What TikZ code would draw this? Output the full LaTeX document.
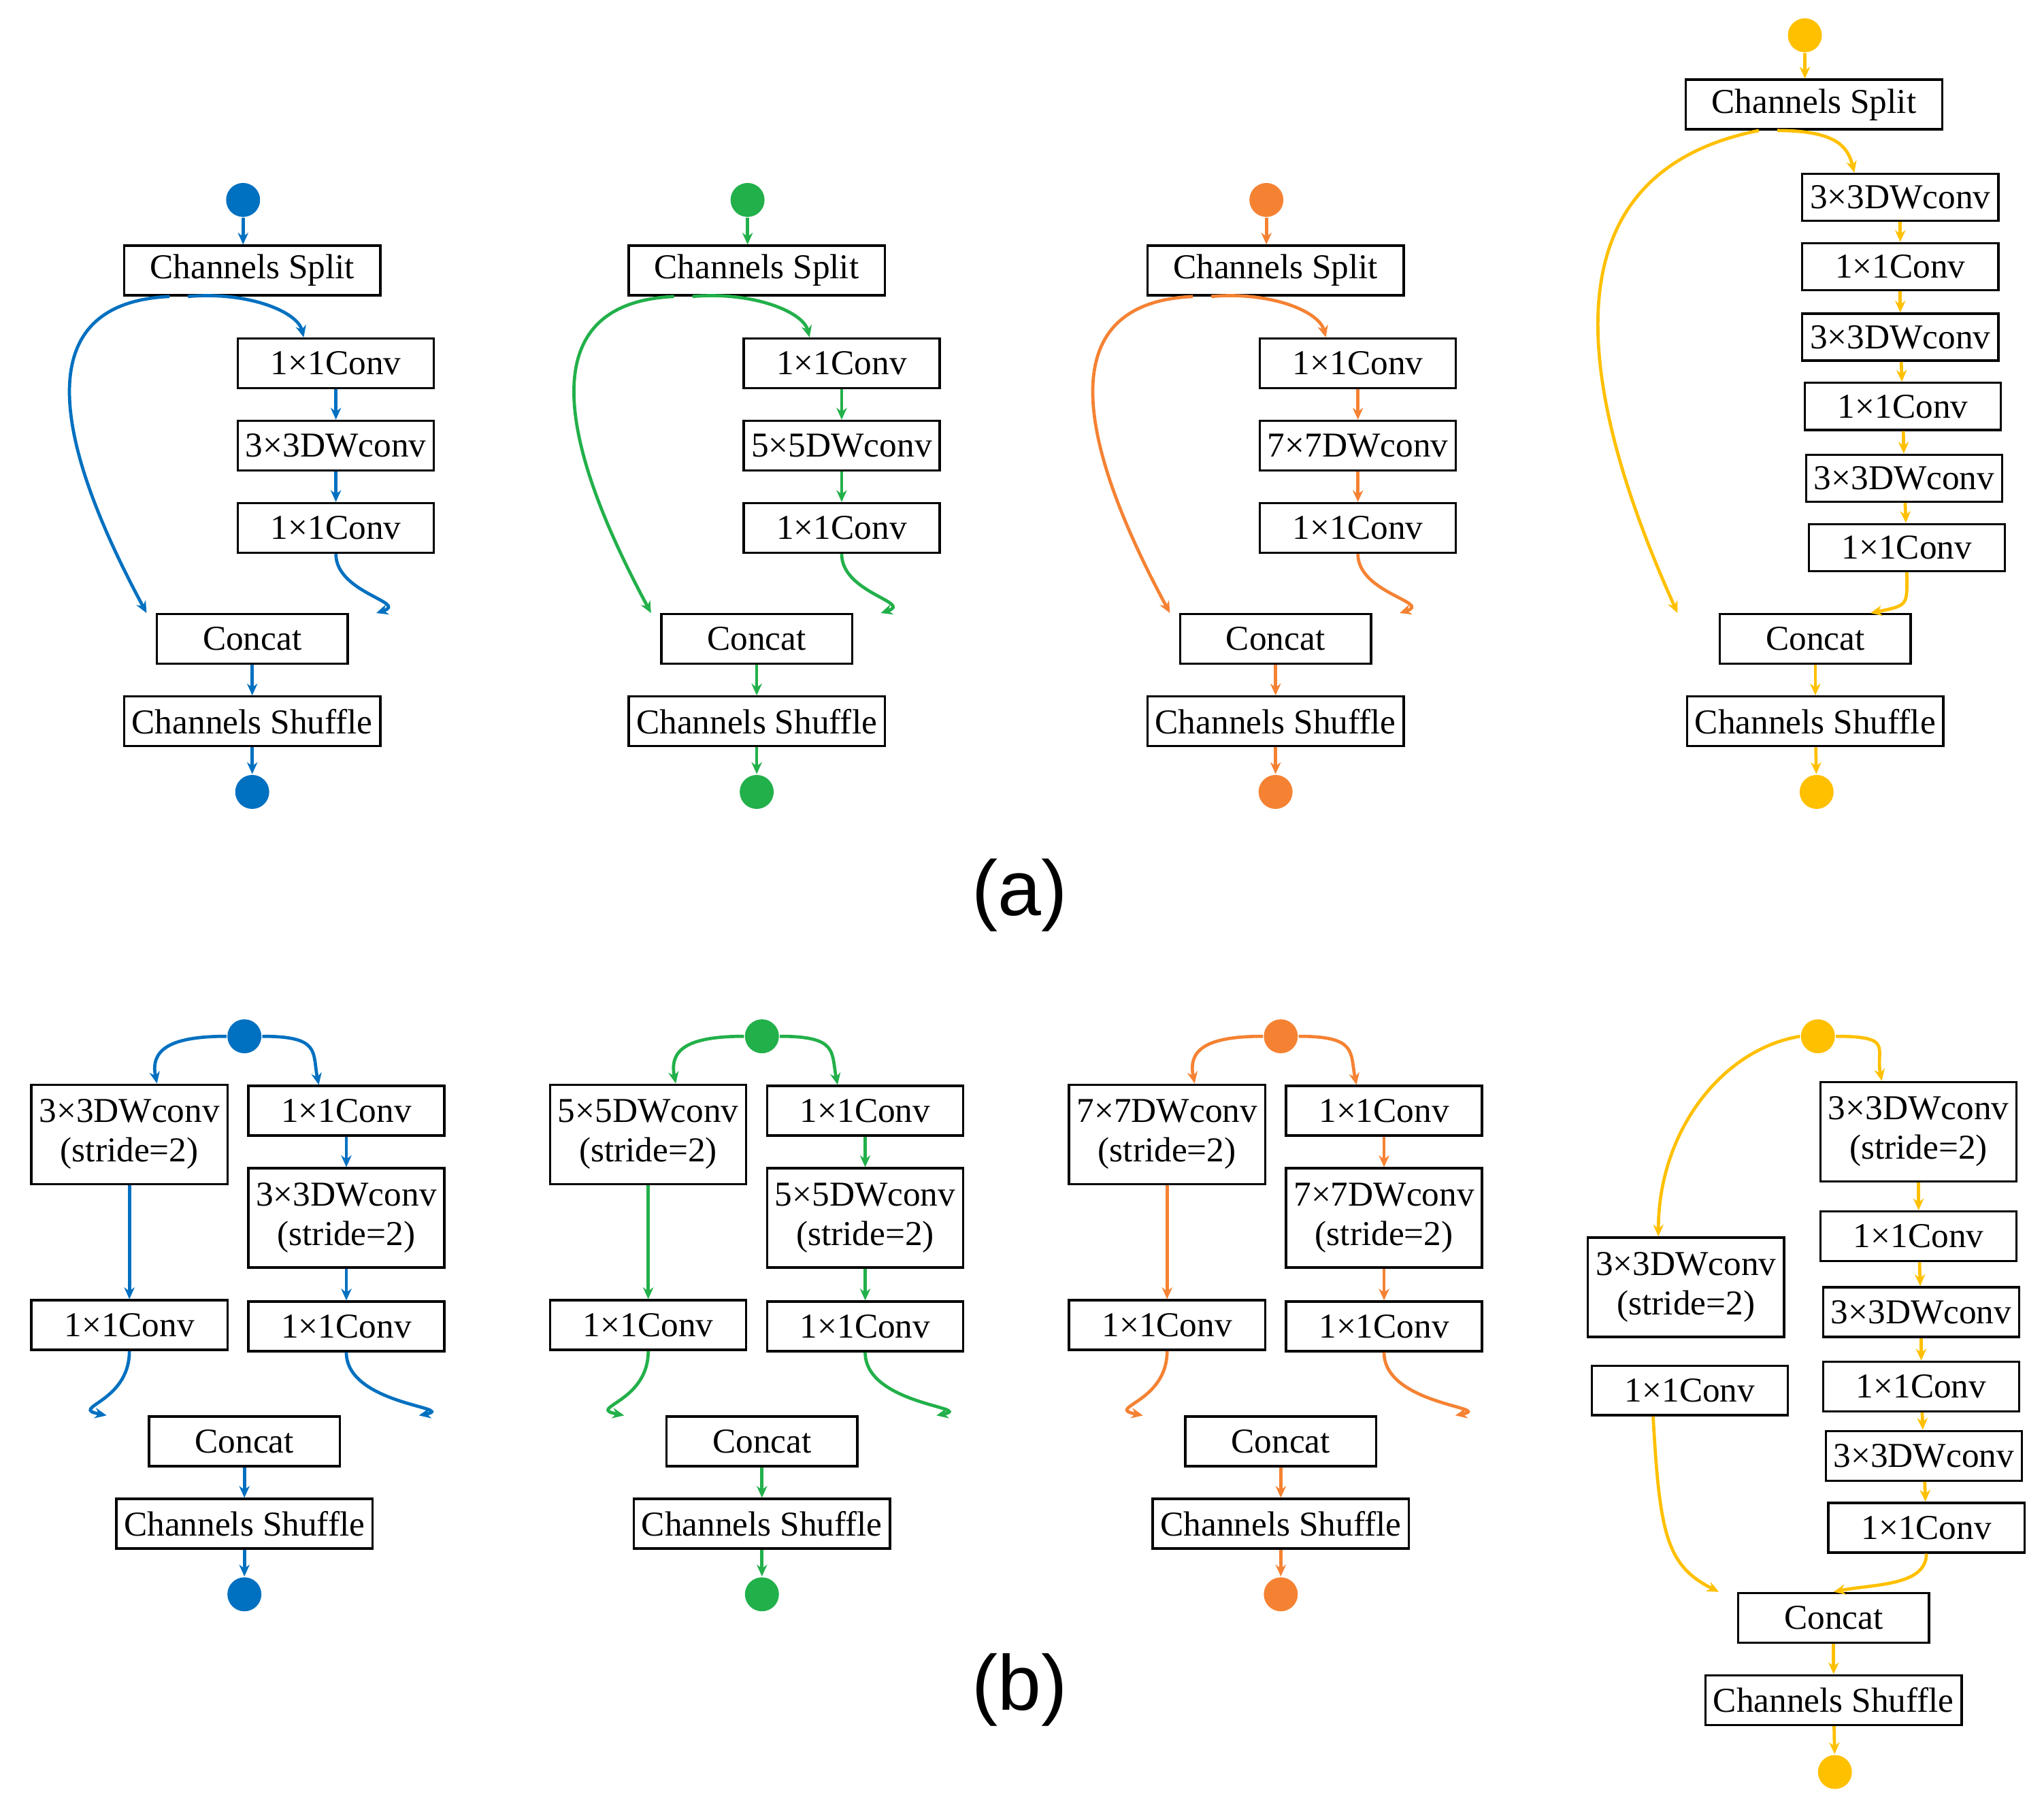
\documentclass[tikz,border=0pt]{standalone}
\usepackage{fontspec}
\setmainfont{Liberation Serif}
\newfontfamily\lab{Liberation Sans}
\usetikzlibrary{arrows.meta}
\definecolor{cb}{HTML}{0070C0}
\definecolor{cg}{HTML}{22B04A}
\definecolor{co}{HTML}{F58233}
\definecolor{cy}{HTML}{FFC000}
\tikzset{
 box/.style={draw=black,line width=0.5pt,minimum width=15mm,minimum height=3.8mm,inner sep=0pt,font=\fontsize{7.6}{8.6}\selectfont,align=center,fill=white},
 tall/.style={box,minimum height=7.6mm},
 dot/.style={circle,fill=#1,minimum size=2.6mm,inner sep=0pt},
 ar/.style={draw=#1,line width=0.7pt,-{Stealth[length=0.9mm,width=0.8mm]}},
}
\newcommand\acolumn[5]{%
 \node[dot=#2] (#1d0) at (#3-7,153) {};
 \node[box,minimum width=19.6mm] (#1s) at (#3,207) {Channels Split};
 \node[box] (#1a) at (#4,278) {1×1Conv};
 \node[box] (#1b) at (#4,341) {#5};
 \node[box] (#1c) at (#4,404) {1×1Conv};
 \node[box,minimum width=14.6mm] (#1k) at (#3,489) {Concat};
 \node[box,minimum width=19.6mm] (#1h) at (#3,552) {Channels Shuffle};
 \node[dot=#2] (#1d1) at (#3,606) {};
 \draw[ar=#2] (#1d0) -- (#1d0|-#1s.north);
 \draw[ar=#2] (#1a) -- (#1b);
 \draw[ar=#2] (#1b) -- (#1c);
 \draw[ar=#2] (#1k) -- (#1h);
 \draw[ar=#2] (#1h) -- (#1d1);
 \draw[ar=#2] ([xshift=-18]#1s.south) .. controls +(-110,5) and +(-70,-130) .. ([xshift=-23]#1k.north);
 \draw[ar=#2] ([xshift=-14]#1s.south) .. controls +(45,-4) and +(-5,-20) .. ([xshift=-7]#1a.north);
 \draw[ar=#2] (#1c.south) .. controls +(0,30) and +(25,-8) .. ([xshift=27]#1k.north);
}
\newcommand\bcolumn[6]{%
 \node[dot=#2] (#1d0) at (#6,793) {};
 \node[tall] (#1l) at (#3,868) {#5\\(stride=2)};
 \node[box] (#1a) at (#4,850) {1×1Conv};
 \node[tall] (#1b) at (#4,932) {#5\\(stride=2)};
 \node[box] (#1c) at (#4,1015) {1×1Conv};
 \node[box] (#1m) at (#3,1014) {1×1Conv};
 \node[box,minimum width=14.6mm] (#1k) at (#6,1103) {Concat};
 \node[box,minimum width=19.6mm] (#1h) at (#6,1166) {Channels Shuffle};
 \node[dot=#2] (#1d1) at (#6,1220) {};
 \draw[ar=#2] (#1d0.west) .. controls +(-45,0) and +(-5,-25) .. ([xshift=6]#1l.north);
 \draw[ar=#2] (#1d0.east) .. controls +(45,0) and +(-5,-25) .. ([xshift=-6]#1a.north);
 \draw[ar=#2] (#1l) -- (#1m);
 \draw[ar=#2] (#1a) -- (#1b);
 \draw[ar=#2] (#1b) -- (#1c);
 \draw[ar=#2] (#1m.south) .. controls +(0,40) and +(-30,-6) .. ([xshift=-30]#1k.north);
 \draw[ar=#2] (#1c.south) .. controls +(0,40) and +(30,-6) .. ([xshift=38]#1k.north);
 \draw[ar=#2] (#1k) -- (#1h);
 \draw[ar=#2] (#1h) -- (#1d1);
}
\begin{document}
\begin{tikzpicture}[x=0.1mm,y=-0.1mm]
\useasboundingbox (0,0) rectangle (1564,1381);
\acolumn{A}{cb}{193}{257}{3×3DWconv}
\acolumn{B}{cg}{579}{644}{5×5DWconv}
\acolumn{C}{co}{976}{1039}{7×7DWconv}
% yellow (a)
\node[dot=cy] (Dd0) at (1381,27) {};
\node[box,minimum width=19.6mm] (Ds) at (1388,80) {Channels Split};
\node[box,minimum height=3.6mm] (D1) at (1454,151) {3×3DWconv};
\node[box,minimum height=3.6mm] (D2) at (1454,204) {1×1Conv};
\node[box,minimum height=3.6mm] (D3) at (1454,258) {3×3DWconv};
\node[box,minimum height=3.6mm] (D4) at (1456,311) {1×1Conv};
\node[box,minimum height=3.6mm] (D5) at (1457,366) {3×3DWconv};
\node[box,minimum height=3.6mm] (D6) at (1459,419) {1×1Conv};
\node[box,minimum width=14.6mm] (Dk) at (1389,489) {Concat};
\node[box,minimum width=19.6mm] (Dh) at (1389,552) {Channels Shuffle};
\node[dot=cy] (Dd1) at (1390,606) {};
\draw[ar=cy] (Dd0) -- (Dd0|-Ds.north);
\foreach \p/\q in {D1/D2,D2/D3,D3/D4,D4/D5,D5/D6} \draw[ar=cy] (\p) -- (\q);
\draw[ar=cy] (Dk) -- (Dh);
\draw[ar=cy] (Dh) -- (Dd1);
\draw[ar=cy] ([xshift=-12]Ds.south) .. controls +(-150,30) and +(-90,-200) .. ([xshift=-30]Dk.north);
\draw[ar=cy] ([xshift=-8]Ds.south) .. controls +(45,0) and +(-5,-20) .. ([xshift=-10]D1.north);
\draw[ar=cy] (D6.south) .. controls +(0,25) and +(30,-6) .. ([xshift=12]Dk.north);
\node[font=\lab\fontsize{17}{20}\selectfont] (la) at (780,685) {(a)};
% (b)
\bcolumn{E}{cb}{99}{265}{3×3DWconv}{187}
\bcolumn{F}{cg}{496}{662}{5×5DWconv}{583}
\bcolumn{G}{co}{893}{1059}{7×7DWconv}{980}
% yellow (b)
\node[dot=cy] (Hd0) at (1391,793) {};
\node[tall] (H1) at (1468,866) {3×3DWconv\\(stride=2)};
\node[box] (H2) at (1468,946) {1×1Conv};
\node[box] (H3) at (1470,1004) {3×3DWconv};
\node[box] (H4) at (1470,1061) {1×1Conv};
\node[box] (H5) at (1472,1114) {3×3DWconv};
\node[box] (H6) at (1474,1169) {1×1Conv};
\node[tall] (Hl) at (1290,985) {3×3DWconv\\(stride=2)};
\node[box] (Hm) at (1293,1064) {1×1Conv};
\node[box,minimum width=14.6mm] (Hk) at (1403,1238) {Concat};
\node[box,minimum width=19.6mm] (Hh) at (1403,1301) {Channels Shuffle};
\node[dot=cy] (Hd1) at (1404,1356) {};
\draw[ar=cy] (Hd0.west) .. controls +(-60,10) and +(0,-80) .. ([xshift=-6]Hl.north);
\draw[ar=cy] (Hd0.east) .. controls +(45,0) and +(-5,-25) .. ([xshift=-8]H1.north);
\foreach \p/\q in {H1/H2,H2/H3,H3/H4,H4/H5,H5/H6} \draw[ar=cy] (\p) -- (\q);
\draw[ar=cy] ([xshift=-8]Hm.south) .. controls +(5,90) and +(-40,-20) .. ([xshift=-25]Hk.north);
\draw[ar=cy] (H6.south) .. controls +(0,25) and +(30,-6) .. ([xshift=0]Hk.north);
\draw[ar=cy] (Hk) -- (Hh);
\draw[ar=cy] (Hh) -- (Hd1);
\node[font=\lab\fontsize{17}{20}\selectfont] (lb) at (780,1293) {(b)};
\end{tikzpicture}
\end{document}
